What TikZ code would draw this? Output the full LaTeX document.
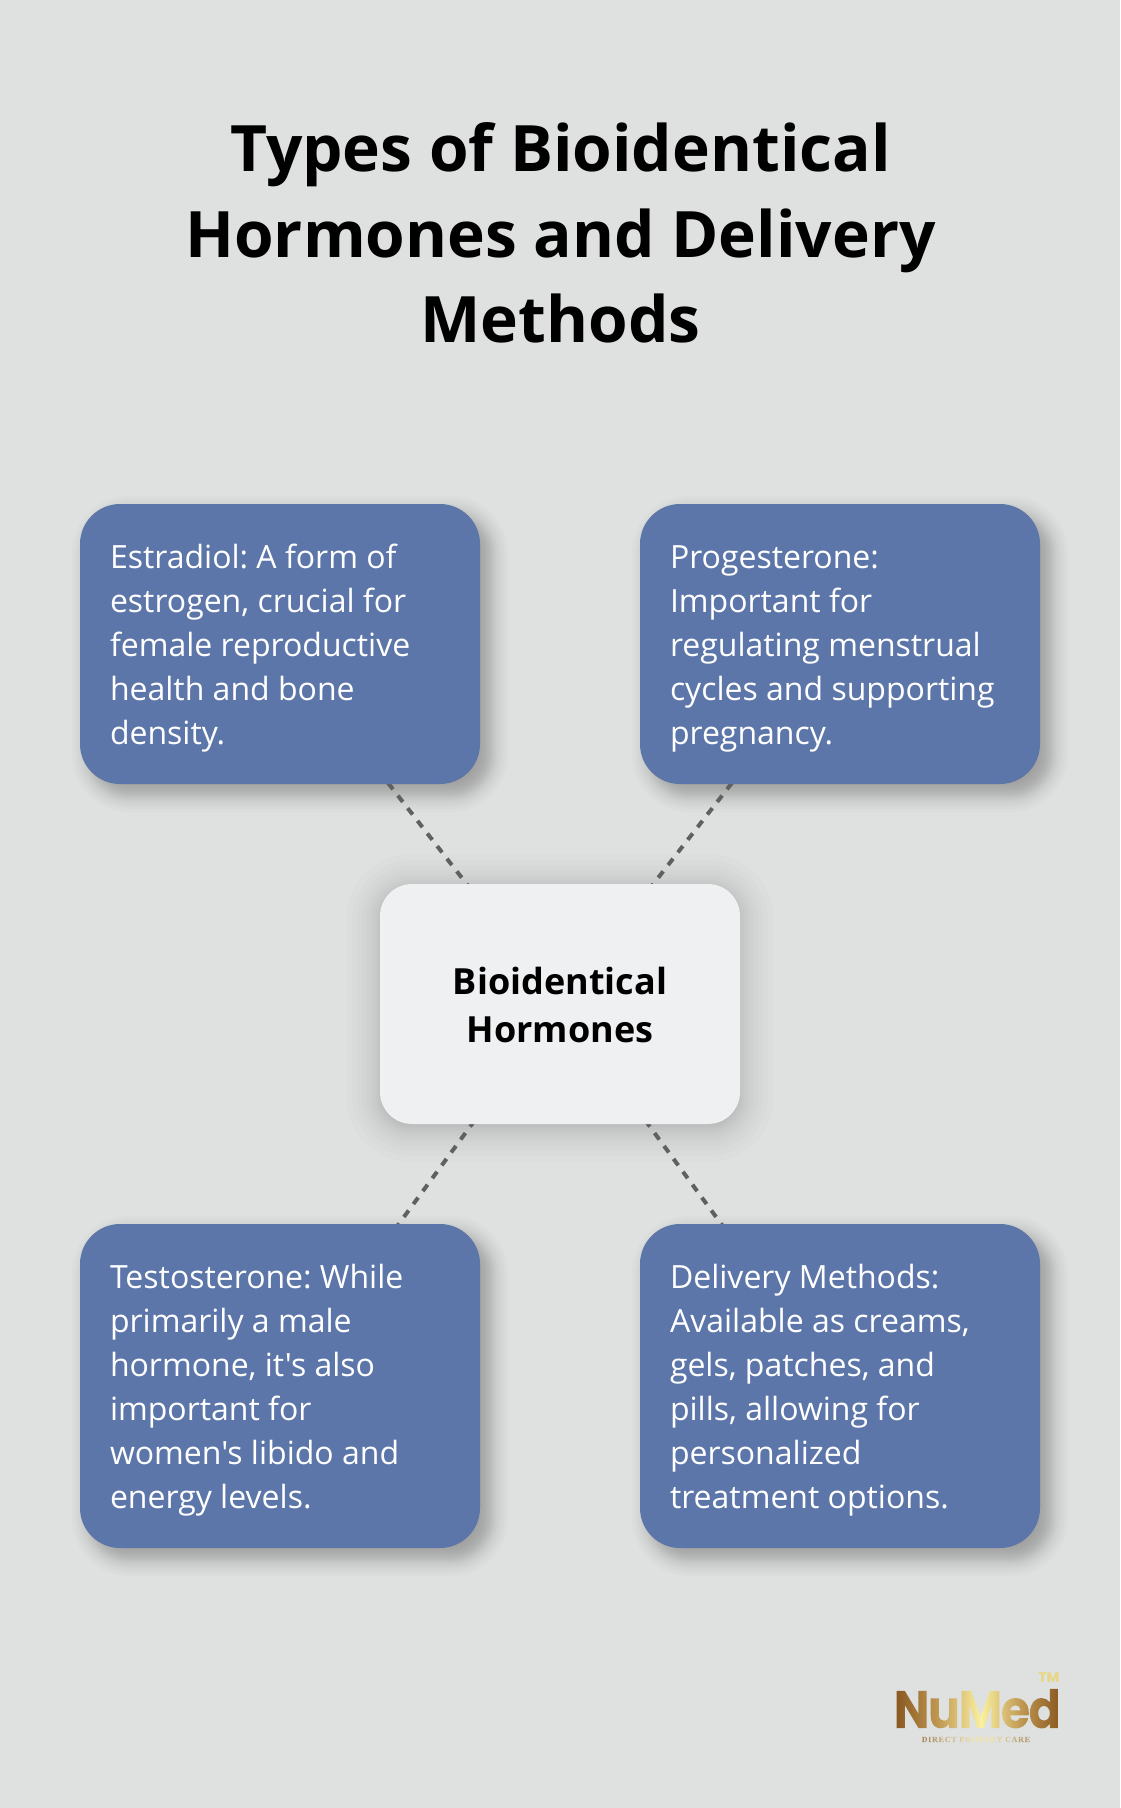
\documentclass[tikz,border=0pt]{standalone}
\usepackage{fontspec}
\setmainfont{Open Sans}[Ligatures=TeXOff]
\newfontfamily\logofont{Poppins}
\newfontfamily\logoserif{Liberation Serif}
\pgfdeclarelayer{bglayer}
\pgfdeclarelayer{shadowlayer}
\pgfdeclarelayer{linelayer}
\pgfsetlayers{bglayer,shadowlayer,linelayer,main}
\definecolor{pagebg}{RGB}{223,225,224}
\definecolor{boxblue}{RGB}{93,118,169}
\definecolor{boxlight}{RGB}{239,240,242}
\definecolor{dashgray}{RGB}{96,96,96}
\definecolor{goldA}{RGB}{139,90,35}
\definecolor{goldB}{RGB}{190,150,80}
\definecolor{goldC}{RGB}{250,240,160}
\definecolor{goldD}{RGB}{165,130,90}
\definecolor{goldE}{RGB}{238,225,170}
\definecolor{goldTM}{RGB}{232,214,130}
\pgfdeclarehorizontalshading{goldbig}{56bp}{
  color(0bp)=(goldA);
  color(3bp)=(goldA);
  color(43bp)=(goldB);
  color(87bp)=(goldC);
  color(128bp)=(goldB);
  color(165bp)=(goldA);
  color(185bp)=(goldA)}
\pgfdeclarehorizontalshading{goldsmall}{14bp}{
  color(0bp)=(goldD);
  color(50bp)=(goldE);
  color(70bp)=(goldE);
  color(112bp)=(goldD);
  color(135bp)=(goldD)}
\newsavebox\goldbox
\newcommand{\goldtext}[3]{%
  \sbox\goldbox{#1}%
  \special{pdf:code 7 Tr}\usebox\goldbox\special{pdf:code 0 Tr}%
  \hspace{-\wd\goldbox}\raisebox{-#3}[0pt][0pt]{\makebox[0pt][l]{\pgfuseshading{#2}}}\hspace{\wd\goldbox}}
\newcommand{\bluefont}{\fontsize{32}{44}\selectfont\frenchspacing}
\tikzset{
  titletext/.style={font=\fontsize{64}{85.6}\selectfont\bfseries,align=center,inner sep=0pt,text=black},
  bluebox/.style={fill=boxblue,rounded corners=40pt,minimum width=400pt,text width=340pt,inner sep=0pt,
    align=flush left,text=white,font=\bluefont,
    execute at begin node=\rule{0pt}{35.4pt},execute at end node=\rule[-11pt]{0pt}{11pt}},
  centerbox/.style={fill=boxlight,rounded corners=32pt,minimum width=360pt,minimum height=240pt,inner sep=0pt,
    text width=320pt,align=flush center,text=black,font=\fontsize{36}{48}\selectfont\bfseries,
    execute at begin node=\rule{0pt}{40pt},execute at end node=\rule[-12pt]{0pt}{12pt}},
  linkline/.style={draw=dashgray,line width=4pt,dash pattern=on 8pt off 8pt},
  logotext/.style={inner sep=0pt,anchor=base west}
}
\newcommand{\softshadow}[6]{% node, dx, dy, radius, spread, opacity
  \begin{pgfonlayer}{shadowlayer}
  \foreach \i in {0,...,19}{
    \pgfmathsetmacro{\tt}{\i/9.5-1}
    \pgfmathsetmacro{\ee}{#5*(0.55*\tt+0.45*\tt*\tt*\tt)}
    \pgfmathsetmacro{\rr}{max(2,#4+\ee)}
    \fill[black,opacity=#6,rounded corners=\rr pt]
      ([shift={(#2-\ee,#3+\ee)}]#1.south west) rectangle ([shift={(#2+\ee,#3-\ee)}]#1.north east);
  }
  \end{pgfonlayer}
}
\begin{document}
\begin{tikzpicture}[x=1pt,y=-1pt]
\useasboundingbox (0,0) rectangle (1120,1808);
\begin{pgfonlayer}{bglayer}
\fill[pagebg] (0,0) rectangle (1120,1808);
\end{pgfonlayer}
\node[titletext] (title) at (560.5,233) {Types of Bioidentical\\Hormones and Delivery\\Methods};
\node[bluebox,minimum height=280pt] (est) at (280,644) {Estradiol: A form of\\estrogen, crucial for\\female reproductive\\health and bone\\density.};
\node[bluebox,minimum height=280pt] (pro) at (840,644) {Progesterone:\\Important for\\regulating menstrual\\cycles and supporting\\pregnancy.};
\node[centerbox] (ctr) at (560,1004) {Bioidentical\\Hormones};
\node[bluebox,minimum height=324pt] (tes) at (280,1386) {Testosterone: While\\primarily a male\\hormone, it's also\\important for\\women's libido and\\energy levels.};
\node[bluebox,minimum height=324pt] (del) at (840,1386) {Delivery Methods:\\Available as creams,\\gels, patches, and\\pills, allowing for\\personalized\\treatment options.};
\softshadow{est}{10}{10}{40}{18}{0.0165}
\softshadow{pro}{10}{10}{40}{18}{0.0165}
\softshadow{tes}{10}{10}{40}{18}{0.0165}
\softshadow{del}{10}{10}{40}{18}{0.0165}
\softshadow{ctr}{0}{4}{32}{34}{0.011}
\begin{pgfonlayer}{linelayer}
\draw[linkline] (est.center) -- (ctr.center);
\draw[linkline] (pro.center) -- (ctr.center);
\draw[linkline] (ctr.center) -- (tes.center);
\draw[linkline] (ctr.center) -- (del.center);
\end{pgfonlayer}
\node[logotext] (logomain) at (893,1728) {\goldtext{\fontsize{53}{53}\logofont\bfseries\addfontfeature{LetterSpace=-3,FakeStretch=0.9}\selectfont NuMed}{goldbig}{8pt}};
\node[logotext] (logosub) at (921,1742) {\goldtext{\fontsize{8}{9}\logoserif\bfseries\addfontfeature{LetterSpace=9.5}\selectfont DIRECT PRIMARY CARE}{goldsmall}{3pt}};
\node[text=goldTM,inner sep=0pt,anchor=base] (tm) at (1049,1682) {\fontsize{14}{14}\logofont\bfseries\selectfont TM};
\end{tikzpicture}
\end{document}
